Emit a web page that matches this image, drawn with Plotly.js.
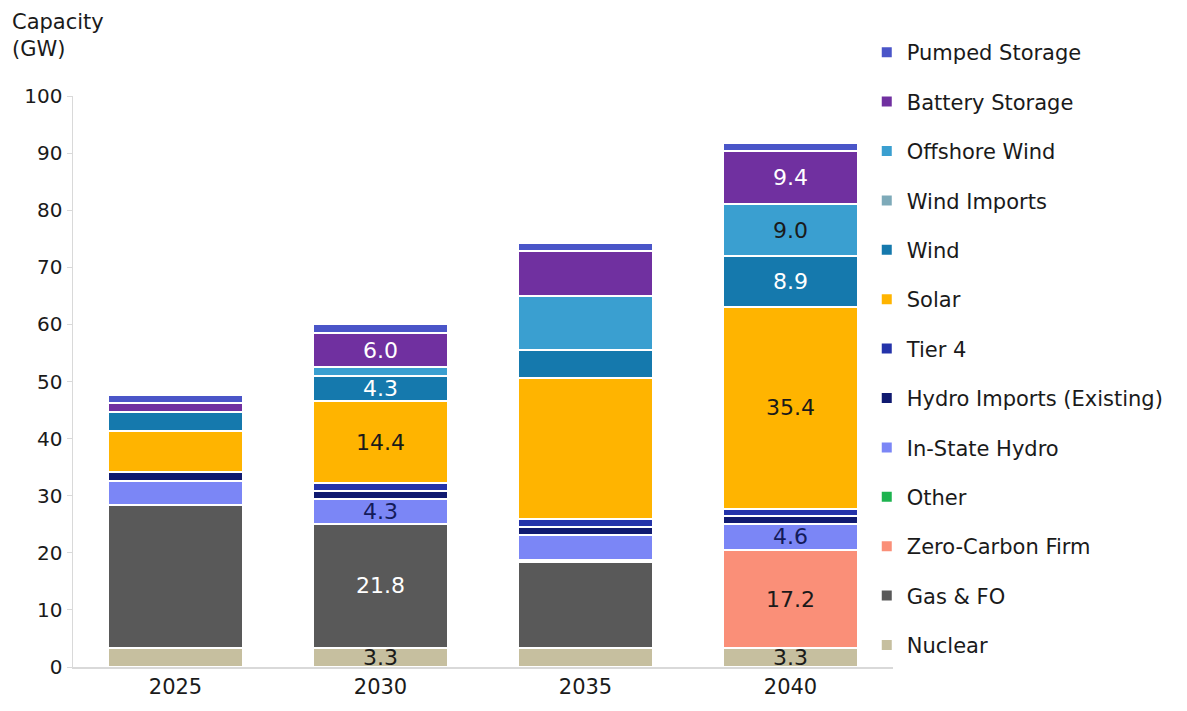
<!DOCTYPE html>
<html>
<head>
<meta charset="utf-8">
<script src="https://cdn.plot.ly/plotly-3.0.1.min.js"></script>
<style>html,body{margin:0;padding:0;background:#fff;}#chart{width:1187px;height:711px;}</style>
</head>
<body>
<div id="chart"></div>
<script>
// Categories (years)
const years = ['2025', '2030', '2035', '2040'];

// Series values (GW), bottom of stack first
const nuclear        = [3.3, 3.3, 3.3, 3.3];
const gasFO          = [25.1, 21.8, 15.1, 0];
const zeroCarbonFirm = [0, 0, 0, 17.2];
const other          = [0, 0, 0.4, 0];
const inStateHydro   = [4.2, 4.3, 4.3, 4.6];
const hydroImports   = [1.5, 1.5, 1.5, 1.3];
const tier4          = [0, 1.3, 1.4, 1.3];
const solar          = [7.3, 14.4, 24.7, 35.4];
const wind           = [3.2, 4.3, 4.8, 8.9];
const windImports    = [0, 0, 0, 0];
const offshoreWind   = [0, 1.6, 9.4, 9.0];
const batteryStorage = [1.6, 6.0, 7.9, 9.4];
const pumpedStorage  = [1.4, 1.5, 1.5, 1.3];

// Which years carry a value label, per series
const labelledYears = {
  'Nuclear': ['2030', '2040'],
  'Gas & FO': ['2030'],
  'Zero-Carbon Firm': ['2040'],
  'In-State Hydro': ['2030', '2040'],
  'Solar': ['2030', '2040'],
  'Wind': ['2030', '2040'],
  'Offshore Wind': ['2040'],
  'Battery Storage': ['2030', '2040']
};

const series = [
  {name: 'Nuclear', y: nuclear, color: '#c6bf9f', tc: '#1a1a1a'},
  {name: 'Gas & FO', y: gasFO, color: '#595959', tc: '#ffffff'},
  {name: 'Zero-Carbon Firm', y: zeroCarbonFirm, color: '#fa8f78', tc: '#1a1a1a'},
  {name: 'Other', y: other, color: '#1db34f', tc: '#1a1a1a'},
  {name: 'In-State Hydro', y: inStateHydro, color: '#7b86f6', tc: '#141b5a'},
  {name: 'Hydro Imports (Existing)', y: hydroImports, color: '#101a70', tc: '#ffffff'},
  {name: 'Tier 4', y: tier4, color: '#2433aa', tc: '#ffffff'},
  {name: 'Solar', y: solar, color: '#ffb400', tc: '#1a1a1a'},
  {name: 'Wind', y: wind, color: '#1579ad', tc: '#ffffff'},
  {name: 'Wind Imports', y: windImports, color: '#7eaab9', tc: '#1a1a1a'},
  {name: 'Offshore Wind', y: offshoreWind, color: '#3a9fd0', tc: '#1a1a1a'},
  {name: 'Battery Storage', y: batteryStorage, color: '#7030a0', tc: '#ffffff'},
  {name: 'Pumped Storage', y: pumpedStorage, color: '#4a55c8', tc: '#ffffff'}
];

const FONT = 'DejaVu Sans, Verdana, sans-serif';

const traces = series.map((s, i) => {
  const ly = labelledYears[s.name] || [];
  const text = years.map((yr, j) => ly.includes(yr) ? s.y[j].toFixed(1) : '');
  return {
    type: 'bar',
    name: s.name,
    x: years,
    y: s.y,
    text: text,
    textposition: 'inside',
    insidetextanchor: 'middle',
    textangle: 0,
    textfont: {family: FONT, size: 22, color: s.tc},
    marker: {color: s.color, line: {color: '#ffffff', width: 2}},
    legendgroup: 'g' + i,
    legendrank: series.length - i,
    hoverinfo: 'name+y'
  };
});

const layout = {
  width: 1187,
  height: 711,
  barmode: 'stack',
  bargap: 0.34,
  paper_bgcolor: '#ffffff',
  plot_bgcolor: '#ffffff',
  margin: {l: 73, r: 294, t: 96, b: 44},
  font: {family: FONT, size: 20, color: '#1a1a1a'},
  uniformtext: {minsize: 21, mode: 'show'},
  xaxis: {
    type: 'category',
    showline: true, linecolor: '#d9d9d9', linewidth: 1.5,
    ticks: '', showgrid: false,
    tickfont: {family: FONT, size: 21, color: '#1a1a1a'}
  },
  yaxis: {
    range: [0, 100], dtick: 10,
    showline: true, linecolor: '#d9d9d9', linewidth: 1.5,
    ticks: 'outside', ticklen: 5, tickcolor: '#d9d9d9',
    showgrid: false, zeroline: false,
    tickfont: {family: FONT, size: 20, color: '#1a1a1a'}
  },
  legend: {
    traceorder: 'grouped',
    tracegroupgap: 19.1,
    x: 0.968, xanchor: 'left',
    y: 1.112, yanchor: 'top',
    maxheight: 700,
    font: {family: FONT, size: 21, color: '#1a1a1a'},
    itemwidth: 30,
    bgcolor: 'rgba(0,0,0,0)'
  },
  annotations: [{
    text: 'Capacity<br>(GW)',
    xref: 'paper', yref: 'paper',
    x: -0.077, xanchor: 'left',
    y: 1.154, yanchor: 'top',
    showarrow: false, align: 'left',
    font: {family: FONT, size: 21, color: '#1a1a1a'}
  }]
};

Plotly.newPlot('chart', traces, layout, {displayModeBar: false, staticPlot: true});
</script>
</body>
</html>
